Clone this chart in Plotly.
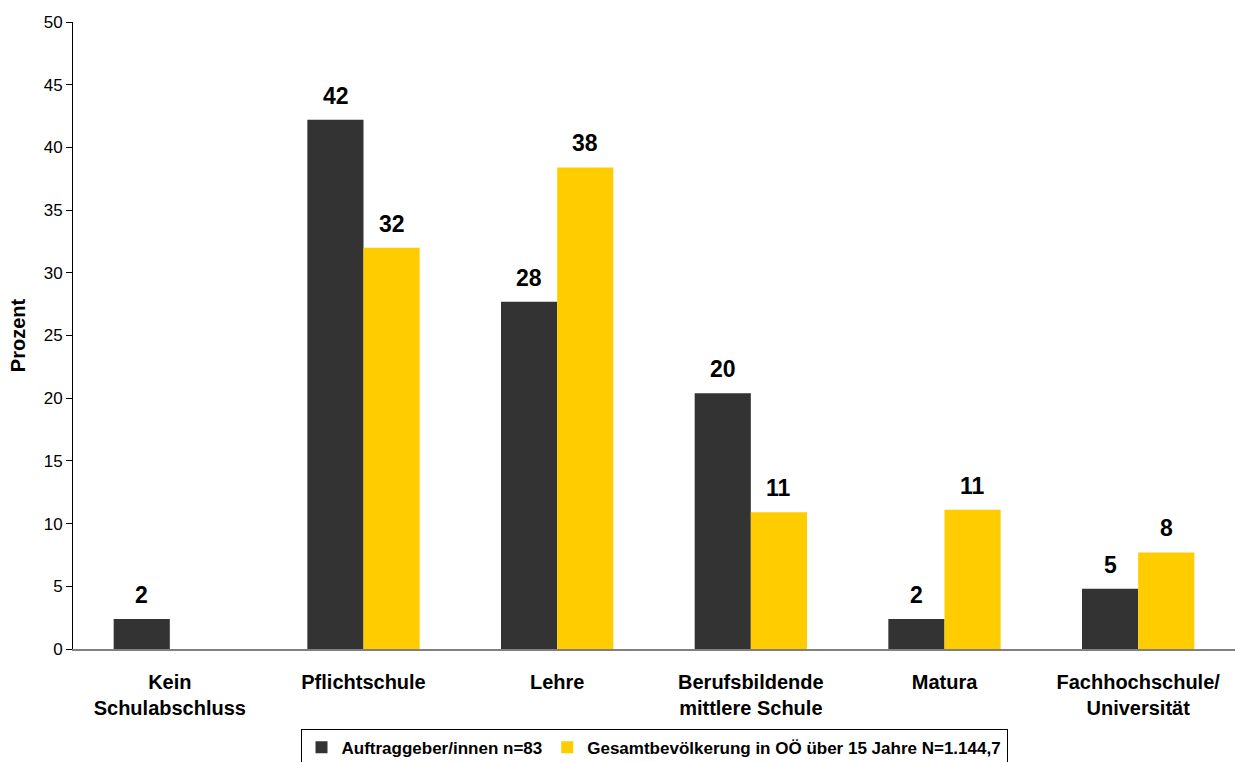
import plotly.graph_objects as go

categories = ["Kein<br>Schulabschluss", "Pflichtschule", "Lehre",
              "Berufsbildende<br>mittlere Schule", "Matura", "Fachhochschule/<br>Universität"]
auftraggeber = [2.4, 42.2, 27.7, 20.4, 2.4, 4.8]
gesamt = [None, 32.0, 38.4, 10.9, 11.1, 7.7]
y_ticks = [0, 5, 10, 15, 20, 25, 30, 35, 40, 45, 50]

series = [
    ("Auftraggeber/innen n=83", auftraggeber, "#333333"),
    ("Gesamtbevölkerung in OÖ über 15 Jahre N=1.144,7", gesamt, "#FFCC00"),
]

FONT = "Liberation Sans, Arial, sans-serif"

fig = go.Figure()
for name, vals, color in series:
    fig.add_trace(go.Bar(x=categories, y=vals, name=name, marker_color=color,
                         marker_line_width=0))

# value labels above each bar
annotations = []
for i, (name, vals, color) in enumerate(series):
    shift = -28 if i == 0 else 28
    for cat, v in zip(categories, vals):
        if v is None:
            continue
        annotations.append(dict(x=cat, y=v, xref="x", yref="y", text=f"<b>{v:.0f}</b>",
                                showarrow=False, yanchor="bottom", xshift=shift, yshift=9,
                                font=dict(family=FONT, size=23, color="#000000")))

fig.update_layout(
    width=1235, height=762,
    margin=dict(l=73, r=0, t=22, b=113, autoexpand=False),
    paper_bgcolor="white", plot_bgcolor="white",
    barmode="group", bargap=0.42, bargroupgap=0,
    font=dict(family=FONT, color="#000000"),
    annotations=annotations,
    showlegend=True,
    legend=dict(orientation="h", x=0.5, xanchor="center", y=-0.127, yanchor="top",
                bordercolor="#000000", borderwidth=1,
                font=dict(family=FONT, size=17, color="#000000", weight="bold"),
                itemwidth=30, tracegroupgap=0),
    xaxis=dict(showline=True, linecolor="#808080", linewidth=2, ticks="",
               tickfont=dict(family=FONT, size=20, weight="bold", color="#000000"),
               ticklabelstandoff=14, showgrid=False, zeroline=False),
    yaxis=dict(range=[0, 50], tickvals=y_ticks, showline=True, linecolor="#000000",
               linewidth=1, ticks="outside", ticklen=6, tickcolor="#000000",
               tickfont=dict(family=FONT, size=17, color="#000000"),
               showgrid=False, zeroline=False,
               title=dict(text="<b>Prozent</b>", font=dict(family=FONT, size=20),
                          standoff=12)),
)

fig.write_html("out.html")
